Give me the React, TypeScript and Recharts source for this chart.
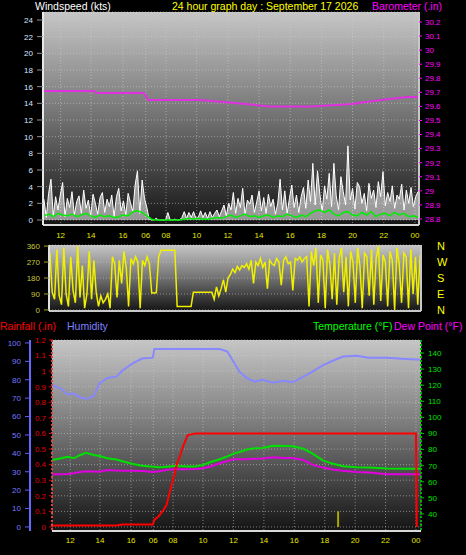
import React from 'react'
import { ComposedChart, LineChart, Line, Area, XAxis, YAxis, CartesianGrid } from 'recharts'

// hour ticks (the x scale is in "hours from left edge", with the 16 -> 06 jump kept as on the original)
const tickPos = [1.27, 3.22, 5.27, 6.73, 8.03, 10, 12, 14, 16, 18, 20, 22, 24]
const tickLabels = ['12', '14', '16', '06', '08', '10', '12', '14', '16', '18', '20', '22', '00']

// wind speed (kts), sampled every 0.15 h from 0.2
const windGust = [
  2.5, 0.3, 3.2, 4.9, 0.5, 2.8, 1.2, 3.0, 4.5, 0.4,
  2.6, 1.5, 3.4, 0.6, 2.2, 2.9, 0.8, 3.6, 1.4, 2.4,
  0.5, 3.1, 2.0, 0.7, 2.7, 3.3, 0.9, 2.5, 1.6, 3.0,
  0.4, 2.8, 3.8, 1.1, 2.3, 0.6, 3.2, 2.1, 1.0, 4.2,
  5.9, 0.8, 4.8, 2.6, 1.5,
  0.1, 0, 0, 0.2, 0, 0, 0, 0, 0.9, 0, 0, 0.1, 0, 0,
  0.3, 1.0, 0.2, 0.9, 0.3, 1.0, 0.2, 0.3, 1.1, 0.3,
  0.9, 0.2, 1.0, 0.3, 0.8, 1.2, 0.4, 1.1, 1.8, 0.5, 2.0,
  1.2, 3.3, 0.8, 2.6, 1.5, 3.8, 0.6, 2.4, 1.9, 3.0,
  0.9, 2.2, 3.5, 1.1, 2.7, 0.8, 3.1, 1.6, 2.5, 0.7,
  2.0, 4.9, 1.2, 3.5, 0.8, 2.6, 4.2, 1.5, 3.0, 0.9,
  2.8, 3.9, 1.4, 4.8, 2.2, 6.8, 1.8, 5.9, 3.1, 1.0,
  4.1, 2.5, 5.6, 1.6, 6.8, 2.9, 1.2, 5.2, 3.4, 1.8,
  8.9, 2.4, 3.8, 1.3, 4.5, 4.0, 2.0, 3.2, 1.1, 4.4,
  2.6, 3.6, 1.5, 4.6, 2.8, 5.8, 1.7, 3.3, 2.2, 4.1,
  1.4, 3.0, 2.5, 4.3, 1.2, 3.6, 2.0, 3.9, 1.6, 2.8, 3.4,
]

// average wind (kts), every 0.3 h from 0.2
const windAvg = [
  0.5, 0.7, 0.4, 0.8, 0.6, 0.5, 0.7, 0.4, 0.6, 0.8,
  0.5, 0.3, 0.6, 0.4, 0.5, 0.3, 0.4, 0.6, 0.5, 1.0,
  1.1, 0.9, 0.5,
  0.1, 0, 0, 0, 0, 0, 0,
  0.1, 0.2, 0.1, 0.2, 0.1, 0.1, 0.2, 0.3, 0.2, 0.4,
  0.6, 0.3, 0.5, 0.7, 0.4, 0.5, 0.3,
  0.5, 0.6, 0.3, 0.5, 0.4, 0.7, 0.5, 0.3, 0.6, 0.4,
  0.8, 1.1, 1.2, 0.9, 1.2, 0.7, 0.5, 0.9, 1.0, 0.6,
  0.5, 0.9, 0.6, 1.0, 0.4, 0.7, 0.8, 0.5, 0.9, 0.6,
  0.8, 0.4, 0.5, 0.3,
]

// barometer (in)
const baroTimes = [0.14, 3.4, 3.6, 6.6, 6.9, 10.2, 12.8, 14.7, 17.3, 19.8, 21.8, 23.5, 24.26]
const baroValues = [29.71, 29.71, 29.695, 29.695, 29.645, 29.645, 29.62, 29.6, 29.6, 29.615, 29.645, 29.667, 29.667]

// wind direction (deg), every 0.15 h from 0.2
const windDir = [
  320, 100, 60, 340, 80, 30, 350, 90, 20, 300,
  110, 40, 360, 70, 250, 10, 90, 330, 60, 280,
  100, 20, 80, 40, 60, 90, 10, 300, 260, 70,
  280, 150, 330, 240, 20, 290, 260, 300, 270, 10,
  280, 250, 300, 260,
  95, 95, 98,
  300,
  337, 337, 337, 337, 337, 337, 337,
  19, 19, 19, 19, 19, 19, 19,
  99, 99, 99, 99, 99, 99, 99, 99, 99,
  60, 130, 80,
  120, 170, 100, 180,
  200, 230, 210, 245, 225, 250, 240,
  260, 230, 280, 150, 270, 250, 290, 240, 270, 120,
  280, 260, 250, 290, 270, 140, 280, 300, 260, 270,
  110, 290, 280, 300, 270, 290,
  300, 20, 330, 250, 350, 40, 310, 280, 10, 340,
  260, 60, 320, 30, 290, 350, 100, 300, 20, 330,
  270, 40, 350, 250, 10, 320, 300, 80, 340, 30,
  290, 360, 50, 310, 270, 20, 330, 280, 0, 350,
  260, 40, 320, 300, 10, 340, 90, 300, 30, 310,
]

// lower panel
const lowTimes = [
  0.1, 0.6, 1.1, 1.5, 1.9, 2.3, 2.8, 3.2, 3.7, 4.3,
  4.7, 5.4, 6.0, 6.7, 6.8, 7.1, 7.4, 7.6, 7.8, 8.1,
  8.3, 8.5, 8.7, 9.0, 9.5, 10.0, 10.5, 11.1, 11.6, 12.0,
  12.4, 12.9, 13.4, 13.9, 14.6, 15.3, 15.9, 16.6, 17.2, 17.9,
  18.5, 19.2, 20.1, 20.9, 22.1, 23.3, 24.0, 24.05, 24.3,
]
const humidity = [
  77, 75.5, 72, 72.5, 70.5, 69.5, 71, 78, 81, 81.7,
  85, 89, 91.5, 92, 96.7, 96.7, 96.7, 96.7, 96.7, 96.7,
  96.7, 96.7, 96.7, 96.7, 96.7, 96.7, 96.7, 96.7, 95.3, 89.8,
  84.4, 80.8, 79, 80, 78.4, 79.5, 78.6, 81.7, 84.4, 88,
  90.2, 92.6, 93.1, 92, 92, 91.3, 91, 91, 90.8,
]
const temperature = [
  73.5, 74.5, 75.6, 74.6, 76.5, 78, 76.6, 76, 74.6, 73.8,
  72.8, 71.1, 70, 69.4, 69.3, 69, 69.1, 69.3, 69.5, 69.8,
  69.8, 69.7, 69.6, 69.5, 69.5, 70.5, 72.3, 74, 75.8, 77.5,
  78.5, 80, 80.8, 81, 82.4, 82.2, 82, 80.5, 77.5, 73.1,
  71.3, 69.6, 69, 68.8, 68.2, 68.1, 68.1, 68.1, 68.1,
]
const dewPoint = [
  64.6, 64.7, 64.8, 65.3, 66, 66.5, 66.3, 66.2, 67.3, 67,
  66.9, 66.8, 66.7, 66, 66, 66.5, 67, 67.4, 67.6, 67.8,
  67.8, 67.8, 67.8, 67.8, 67.9, 68.4, 69.5, 71.5, 72.8, 74,
  74, 74, 74.3, 74.5, 75.2, 74.8, 74.8, 73.5, 70.5, 68.8,
  67.6, 66.8, 66, 65.7, 64.7, 64.6, 64.6, 64.6, 64.6,
]
const rainfall = [
  0.01, 0.01, 0.01, 0.01, 0.01, 0.01, 0.01, 0.01, 0.01, 0.01,
  0.015, 0.015, 0.015, 0.015, 0.045, 0.07, 0.11, 0.14, 0.22, 0.33,
  0.41, 0.46, 0.52, 0.59, 0.6, 0.6, 0.6, 0.6, 0.6, 0.6,
  0.6, 0.6, 0.6, 0.6, 0.6, 0.6, 0.6, 0.6, 0.6, 0.6,
  0.6, 0.6, 0.6, 0.6, 0.6, 0.6, 0.6, 0, null,
]
const rainRateTimes = [18.88, 18.88]
const rainRate = [0, 0.1]

const windTicks = [0, 2, 4, 6, 8, 10, 12, 14, 16, 18, 20, 22, 24]
const baroTicks = [28.8, 28.9, 29, 29.1, 29.2, 29.3, 29.4, 29.5, 29.6, 29.7, 29.8, 29.9, 30, 30.1, 30.2]
const dirTicks = [0, 90, 180, 270, 360]
const dirNames: Record<number, string> = { 0: 'N', 90: 'E', 180: 'S', 270: 'W', 360: 'N' }
const humTicks = [0, 10, 20, 30, 40, 50, 60, 70, 80, 90, 100]
const rainTicks = [0, 0.1, 0.2, 0.3, 0.4, 0.5, 0.6, 0.7, 0.8, 0.9, 1, 1.1, 1.2]
const tempTicks = [40, 50, 60, 70, 80, 90, 100, 110, 120, 130, 140]

const stepTimes = (n: number, start: number, step: number) =>
  Array.from({ length: n }, (_, i) => +(start + i * step).toFixed(2))
const pairs = (times: number[], values: (number | null)[]) => times.map((t, i) => ({ t, v: values[i] }))

const gustData = pairs(stepTimes(windGust.length, 0.2, 0.15), windGust)
const avgData = pairs(stepTimes(windAvg.length, 0.2, 0.3), windAvg)
const baroData = pairs(baroTimes, baroValues)
const dirData = pairs(stepTimes(windDir.length, 0.2, 0.15), windDir)
const humData = pairs(lowTimes, humidity)
const tempData = pairs(lowTimes, temperature)
const dewData = pairs(lowTimes, dewPoint)
const rainData = pairs(lowTimes, rainfall)
const rateData = pairs(rainRateTimes, rainRate)

const fmtHour = (v: number) => tickLabels[tickPos.indexOf(v)] ?? ''
const FONT = "'Liberation Sans', Arial, sans-serif"
const grid = { stroke: '#d0d0d0', strokeDasharray: '1 2', strokeOpacity: 0.55 }
const xTick = { fill: '#e6e600', fontSize: 8, fontFamily: FONT }

const Gradient = ({ id }: { id: string }) => (
  <defs>
    <linearGradient id={id} x1="0" y1="0" x2="0" y2="1">
      <stop offset="0%" stopColor="#c6c6c6" />
      <stop offset="45%" stopColor="#7a7a7a" />
      <stop offset="100%" stopColor="#141414" />
    </linearGradient>
  </defs>
)

const Title = ({ x, y, color, text }: { x: number; y: number; color: string; text: string }) => (
  <div style={{ position: 'absolute', left: x, top: y, color, fontSize: 10.5, lineHeight: '12px', whiteSpace: 'nowrap' }}>
    {text}
  </div>
)

export default function App() {
  return (
    <div style={{ position: 'absolute', left: 0, top: 0, width: 466, height: 555, background: '#000', fontFamily: FONT, overflow: 'hidden' }}>
      {/* wind + barometer */}
      <div style={{ position: 'absolute', left: 0, top: 0 }}>
        <ComposedChart width={466} height={245} margin={{ top: 12, right: 0, bottom: 0, left: 0 }}>
          <Gradient id="bgTop" />
          <CartesianGrid yAxisId="wind" fill="url(#bgTop)" {...grid} />
          <XAxis dataKey="t" type="number" domain={[0.14, 24.26]} ticks={tickPos} interval={0}
            tickFormatter={fmtHour} allowDataOverflow height={20} tick={xTick} tickLine={false}
            tickMargin={1} axisLine={{ stroke: '#d8d8d8', strokeWidth: 2 }} />
          <YAxis yAxisId="wind" domain={[-0.6, 24.96]} ticks={windTicks} interval={0} allowDataOverflow width={43}
            tick={{ fill: '#dde6ff', fontSize: 8, fontFamily: FONT }} tickSize={6} tickMargin={4}
            tickLine={{ stroke: '#909090' }} axisLine={{ stroke: '#e8e8e8', strokeWidth: 2 }} />
          <YAxis yAxisId="baro" orientation="right" domain={[28.757, 30.271]} ticks={baroTicks} interval={0}
            allowDataOverflow width={47} tick={{ fill: '#ff00ff', fontSize: 8, fontFamily: FONT }} tickSize={3}
            tickMargin={3} tickLine={{ stroke: '#ff00ff' }} axisLine={{ stroke: '#c8c8c8', strokeWidth: 2 }} />
          <Area yAxisId="wind" data={gustData} dataKey="v" type="linear" baseValue={0} stroke="#ffffff" strokeWidth={1}
            fill="#ffffff" fillOpacity={0.55} dot={false} isAnimationActive={false} />
          <Line yAxisId="wind" data={avgData} dataKey="v" stroke="#00ee00" strokeWidth={1.5} dot={false} isAnimationActive={false} />
          <Line yAxisId="baro" data={baroData} dataKey="v" stroke="#e030e0" strokeWidth={2} dot={false} isAnimationActive={false} />
        </ComposedChart>
      </div>

      <Title x={35} y={0} color="#ffffff" text="Windspeed (kts)" />
      <Title x={172} y={0} color="#ffff00" text="24 hour graph day : September 17 2026" />
      <Title x={372} y={0} color="#ff00ff" text="Barometer (.in)" />

      {/* wind direction */}
      <div style={{ position: 'absolute', left: 0, top: 237 }}>
        <LineChart width={466} height={82} margin={{ top: 8, right: 0, bottom: 0, left: 0 }}>
          <Gradient id="bgMid" />
          <CartesianGrid yAxisId="dir" fill="url(#bgMid)" {...grid} />
          <XAxis dataKey="t" type="number" domain={[0.14, 24.26]} ticks={tickPos} interval={0} allowDataOverflow
            height={8} tick={false} tickLine={false} axisLine={{ stroke: '#c8c8c8', strokeWidth: 2 }} />
          <YAxis yAxisId="dir" domain={[-6, 366]} ticks={dirTicks} interval={0} allowDataOverflow width={49}
            tick={{ fill: '#c8c832', fontSize: 8, fontFamily: FONT }} tickSize={5} tickMargin={4}
            tickLine={{ stroke: '#a0a020' }} axisLine={{ stroke: '#e0e0e0', strokeWidth: 2 }} />
          <YAxis yAxisId="dirName" orientation="right" domain={[-6, 366]} ticks={dirTicks} interval={0} allowDataOverflow
            width={45} tickFormatter={(v: number) => dirNames[v]} tick={{ fill: '#ffff00', fontSize: 11, fontFamily: FONT }}
            tickSize={0} tickMargin={16} tickLine={false} axisLine={{ stroke: '#c8c8c8', strokeWidth: 2 }} />
          <Line yAxisId="dir" data={dirData} dataKey="v" stroke="#f0f000" strokeWidth={1.5} dot={false} isAnimationActive={false} />
        </LineChart>
      </div>

      <div style={{ position: 'absolute', left: 0, top: 319, width: 466, height: 16 }}>
        <Title x={0} y={1} color="#ff0000" text="Rainfall (.in)" />
        <Title x={67} y={1} color="#8080ff" text="Humidity" />
        <Title x={313} y={1} color="#00ff00" text="Temperature (°F)" />
        <Title x={394} y={1} color="#ff00ff" text="Dew Point (°F)" />
      </div>

      {/* rain, humidity, temperature, dew point */}
      <div style={{ position: 'absolute', left: 0, top: 330 }}>
        <LineChart width={466} height={225} margin={{ top: 10, right: 0, bottom: 0, left: 0 }}>
          <Gradient id="bgLow" />
          <CartesianGrid yAxisId="a_rain" fill="url(#bgLow)" {...grid} />
          <XAxis dataKey="t" type="number" domain={[0.07, 24.33]} ticks={tickPos} interval={0}
            tickFormatter={fmtHour} allowDataOverflow height={24} tick={xTick} tickLine={false}
            tickMargin={0} axisLine={{ stroke: '#d8d8d8', strokeWidth: 2 }} />
          <YAxis yAxisId="a_rain" domain={[-0.026, 1.2]} ticks={rainTicks} interval={0} allowDataOverflow width={22}
            tick={{ fill: '#e00000', fontSize: 8, fontFamily: FONT }} tickSize={3} tickMargin={3}
            tickLine={{ stroke: '#e00000' }} axisLine={{ stroke: '#e04040', strokeWidth: 2, strokeDasharray: '2 2' }} />
          <YAxis yAxisId="b_hum" domain={[-2.2, 101.6]} ticks={humTicks} interval={0} allowDataOverflow width={30}
            tick={{ fill: '#7878ff', fontSize: 8, fontFamily: FONT }} tickSize={5} tickMargin={4}
            tickLine={{ stroke: '#6060ff' }} axisLine={{ stroke: '#6868ff', strokeWidth: 2 }} />
          <YAxis yAxisId="temp" orientation="right" domain={[29.4, 148.1]} ticks={tempTicks} interval={0}
            allowDataOverflow width={45} tick={{ fill: '#00e000', fontSize: 8, fontFamily: FONT }} tickSize={3}
            tickMargin={4} tickLine={{ stroke: '#00c000' }} axisLine={{ stroke: '#00b000', strokeWidth: 2, strokeDasharray: '2 2' }} />
          <Line yAxisId="b_hum" data={humData} dataKey="v" stroke="#8888ff" strokeWidth={2} dot={false} isAnimationActive={false} />
          <Line yAxisId="temp" data={tempData} dataKey="v" stroke="#00e000" strokeWidth={2} dot={false} isAnimationActive={false} />
          <Line yAxisId="temp" data={dewData} dataKey="v" stroke="#e000e0" strokeWidth={2} dot={false} isAnimationActive={false} />
          <Line yAxisId="a_rain" data={rainData} dataKey="v" stroke="#ff0000" strokeWidth={2} dot={false} isAnimationActive={false} />
          <Line yAxisId="a_rain" data={rateData} dataKey="v" stroke="#a8a800" strokeWidth={2} dot={false} isAnimationActive={false} />
        </LineChart>
      </div>
    </div>
  )
}
